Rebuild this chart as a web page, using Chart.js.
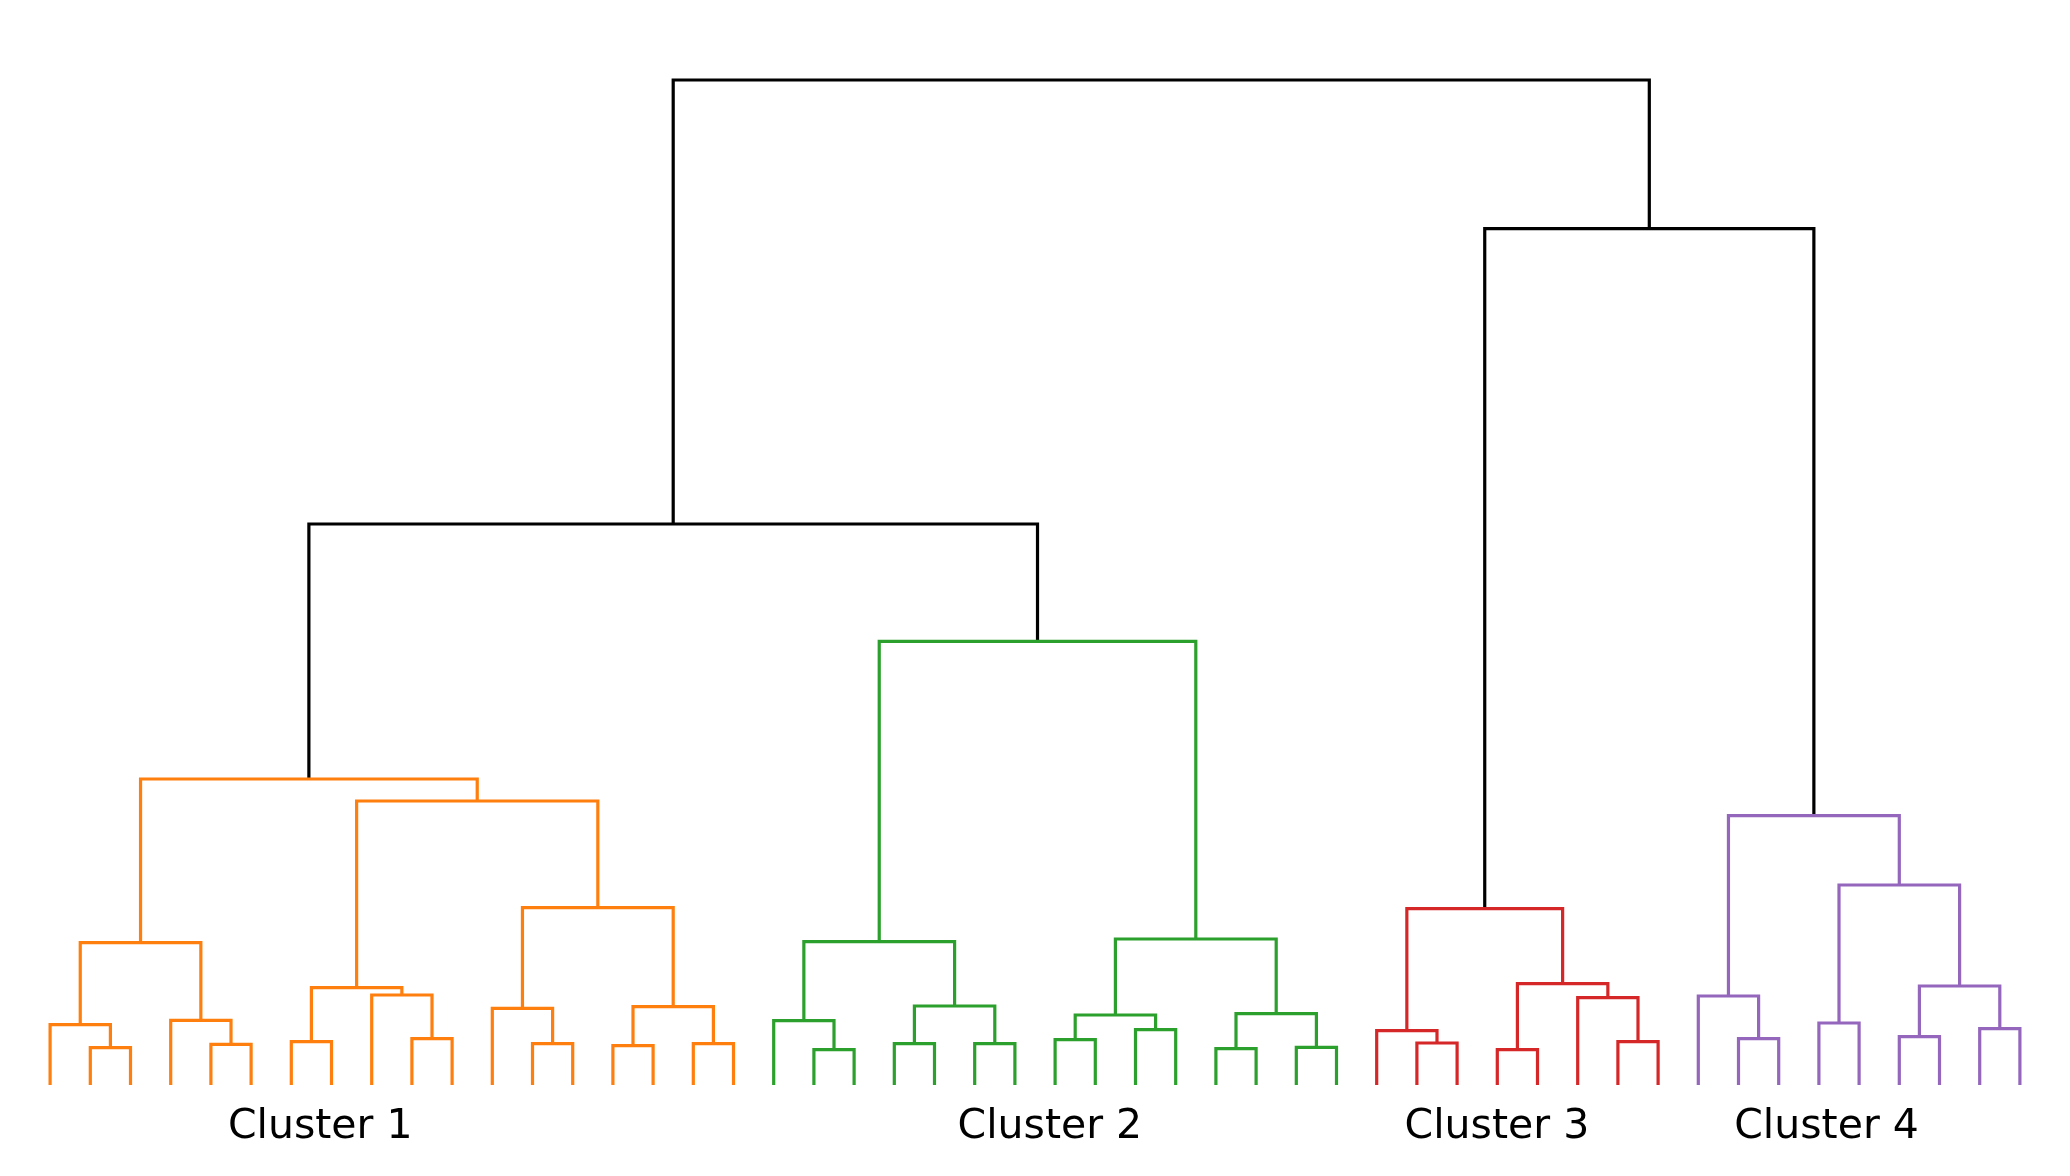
<!DOCTYPE html>
<html>
<head>
<meta charset="utf-8">
<script src="https://cdn.jsdelivr.net/npm/chart.js@4.4.0/dist/chart.umd.min.js"></script>
<style>
  html, body { margin: 0; padding: 0; background: #ffffff; }
  #wrap { width: 2070px; height: 1176px; }
</style>
</head>
<body>
<div id="wrap"><canvas id="c" width="2070" height="1176"></canvas></div>
<script>
// ---- data ----
const leafCount = 50;
const clusterNames = ["Cluster 1", "Cluster 2", "Cluster 3", "Cluster 4"];
const clusterSizes = [18, 15, 8, 9];
const clusterColors = ["#ff7f0e", "#2ca02c", "#d62728", "#9467bd"];
const clusterLabelX = [72.2, 253.7, 364.9, 446.9];
// linkage (scipy style): merge k creates node leafCount + k
const mergeLeft = [
  1, 0, 4, 3, 51, 6, 9, 8, 55, 12, 11, 14, 16, 61, 60, 58, 54,
  19, 18, 21, 23, 69, 68, 25, 27, 73, 29, 31, 76, 75, 72,
  66,
  34, 33, 36, 39, 38, 84, 83,
  42, 41, 44, 46, 48, 92, 91, 90,
  88, 81
];
const mergeRight = [
  2, 50, 5, 52, 53, 7, 10, 56, 57, 13, 59, 15, 17, 62, 63, 64, 65,
  20, 67, 22, 24, 70, 71, 26, 28, 74, 30, 32, 77, 78, 79,
  80,
  35, 82, 37, 40, 85, 86, 87,
  43, 89, 45, 47, 49, 93, 94, 95,
  96, 97
];
const mergeHeight = [
  0.373, 0.603, 0.407, 0.647, 1.423, 0.433, 0.463, 0.900, 0.973, 0.413, 0.767, 0.393, 0.413, 0.783, 1.773, 2.840, 3.060,
  0.353, 0.643, 0.413, 0.413, 0.790, 1.433, 0.453, 0.553, 0.700, 0.363, 0.377, 0.713, 1.460, 4.437,
  5.610,
  0.420, 0.543, 0.353, 0.433, 0.873, 1.013, 1.763,
  0.463, 0.890, 0.620, 0.483, 0.563, 0.990, 2.000, 2.693,
  8.563, 10.050
];

// ---- build link segments from the linkage ----
const leafCluster = [];
clusterSizes.forEach((n, ci) => { for (let i = 0; i < n; i++) leafCluster.push(ci); });
const nodeX = [], nodeY = [], nodeCluster = [];
for (let i = 0; i < leafCount; i++) { nodeX.push(10 * i + 5); nodeY.push(0); nodeCluster.push(leafCluster[i]); }
const datasets = [];
for (let k = 0; k < mergeLeft.length; k++) {
  const a = mergeLeft[k], b = mergeRight[k], h = mergeHeight[k];
  const cl = (nodeCluster[a] === nodeCluster[b] && nodeCluster[a] >= 0) ? nodeCluster[a] : -1;
  nodeX.push((nodeX[a] + nodeX[b]) / 2); nodeY.push(h); nodeCluster.push(cl);
  datasets.push({
    data: [{x: nodeX[a], y: nodeY[a]}, {x: nodeX[a], y: h}, {x: nodeX[b], y: h}, {x: nodeX[b], y: nodeY[b]}],
    borderColor: cl >= 0 ? clusterColors[cl] : "#000000",
    borderWidth: 3.2,
    showLine: true,
    pointRadius: 0,
    pointHoverRadius: 0,
    tension: 0,
    fill: false,
    borderJoinStyle: "miter",
    borderCapStyle: "butt"
  });
}

const labelPlugin = {
  id: "clusterLabels",
  afterDraw(chart) {
    const ctx = chart.ctx, xs = chart.scales.x;
    ctx.save();
    ctx.font = '41px "DejaVu Sans"';
    ctx.fillStyle = "#000000";
    ctx.textAlign = "center";
    ctx.textBaseline = "alphabetic";
    clusterNames.forEach((name, i) => {
      ctx.fillText(name, xs.getPixelForValue(clusterLabelX[i]), chart.chartArea.bottom + 53);
    });
    ctx.restore();
  }
};

new Chart(document.getElementById("c"), {
  type: "scatter",
  data: { datasets },
  options: {
    responsive: false,
    animation: false,
    devicePixelRatio: 1,
    layout: { padding: { left: 30, right: 30, top: 0, bottom: 91 } },
    plugins: { legend: { display: false }, tooltip: { enabled: false } },
    events: [],
    scales: {
      x: { type: "linear", min: 0, max: 500, display: false },
      y: { type: "linear", min: 0, max: 10.85, display: false }
    }
  },
  plugins: [labelPlugin]
});
</script>
</body>
</html>
